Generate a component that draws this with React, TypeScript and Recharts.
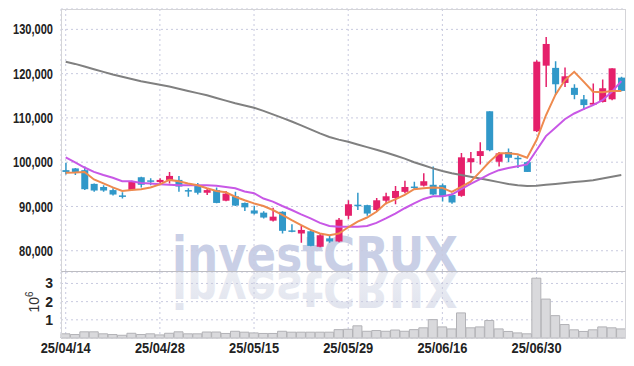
import React from "react";
import { Bar, CartesianGrid, ComposedChart, Line, XAxis, YAxis } from "recharts";

const dates = [
  "25/04/14", "25/04/15", "25/04/16", "25/04/17", "25/04/18", "25/04/21", "25/04/22", "25/04/23", "25/04/24", "25/04/25",
  "25/04/28", "25/04/29", "25/04/30", "25/05/02", "25/05/07", "25/05/08", "25/05/09", "25/05/12", "25/05/13", "25/05/14",
  "25/05/15", "25/05/16", "25/05/19", "25/05/20", "25/05/21", "25/05/22", "25/05/23", "25/05/26", "25/05/27", "25/05/28",
  "25/05/29", "25/05/30", "25/06/02", "25/06/04", "25/06/05", "25/06/09", "25/06/10", "25/06/11", "25/06/12", "25/06/13",
  "25/06/16", "25/06/17", "25/06/18", "25/06/19", "25/06/20", "25/06/23", "25/06/24", "25/06/25", "25/06/26", "25/06/27",
  "25/06/30", "25/07/01", "25/07/02", "25/07/03", "25/07/04", "25/07/07", "25/07/08", "25/07/09", "25/07/10", "25/07/11",
];

const opens = [
  98200, 98600, 98200, 95100, 94400, 93700, 92500, 93700, 96600, 95900,
  95500, 96000, 96000, 93700, 94800, 93100, 93700, 91300, 92300, 90800,
  89100, 88600, 86800, 88800, 84600, 83900, 84400, 80900, 82800, 82100,
  87900, 90400, 90300, 89200, 91300, 91900, 93300, 94500, 94700, 94900,
  94800, 92600, 92400, 100000, 101400, 111500, 100100, 102300, 101000, 100000,
  107000, 121800, 121300, 117900, 116800, 114200, 113000, 113600, 114200, 119100,
];
const highs = [
  99900, 98700, 99000, 95200, 94800, 94100, 93200, 95800, 96700, 96400,
  96400, 97800, 96900, 94100, 95300, 94200, 94300, 93500, 93300, 90900,
  90100, 88900, 89700, 88900, 86000, 85600, 84800, 84000, 83500, 87400,
  91400, 93100, 90400, 91900, 93100, 94600, 95800, 95600, 97500, 99000,
  95200, 93000, 102100, 102300, 104500, 111500, 102300, 103100, 101500, 100200,
  123000, 128300, 122800, 121400, 117600, 115200, 117800, 118700, 121200, 119300,
];
const lows = [
  97200, 97100, 93700, 93300, 93300, 92500, 91800, 93600, 94300, 94800,
  95200, 95200, 93300, 92200, 92700, 92600, 90700, 91200, 90100, 89000,
  88200, 87300, 86600, 83900, 84200, 81800, 81000, 80800, 81800, 81900,
  87100, 89200, 87900, 89000, 90500, 90500, 93000, 93900, 94500, 92600,
  91100, 90600, 92200, 97500, 99500, 102500, 99000, 100000, 98700, 97800,
  106800, 117000, 115200, 117000, 114200, 111800, 112900, 113500, 114000, 116000,
];
const closes = [
  97800, 97800, 93900, 93600, 93600, 92700, 92400, 95700, 94900, 95800,
  96000, 96900, 94500, 93600, 93100, 93700, 90800, 92900, 90200, 89800,
  88400, 87500, 87700, 84500, 84500, 84700, 81100, 83500, 82100, 87000,
  90500, 90300, 88400, 91400, 92300, 93500, 94400, 94400, 95700, 92700,
  92300, 90900, 101100, 100900, 102500, 102700, 102000, 101000, 100900, 97800,
  122700, 126700, 117600, 119400, 115200, 112900, 113400, 116700, 121200, 116100,
];
const volumes = [
  230000, 190000, 340000, 340000, 230000, 190000, 150000, 260000, 190000, 230000,
  170000, 260000, 340000, 230000, 230000, 330000, 330000, 250000, 370000, 320000,
  280000, 250000, 250000, 370000, 320000, 320000, 320000, 320000, 320000, 460000,
  480000, 670000, 370000, 410000, 370000, 440000, 370000, 460000, 560000, 1010000,
  610000, 500000, 1380000, 560000, 610000, 960000, 500000, 360000, 280000, 230000,
  3290000, 2140000, 1230000, 740000, 450000, 360000, 450000, 610000, 560000, 500000,
];
const ma5 = [
  97600, 97650, 97800, 96100, 95200, 94300, 93500, 93700, 93900, 94300,
  95000, 96000, 95700, 95200, 94800, 94100, 93500, 93200, 92200, 91400,
  90700, 90100, 89200, 88100, 86900, 85800, 84700, 83900, 83500, 83900,
  85300, 86600, 87500, 88800, 90700, 91600, 92600, 93900, 94100, 94300,
  94200, 93300, 94400, 95600, 97800, 100100, 102000, 102000, 101800, 101000,
  105000, 110600, 115200, 118500, 120400, 118200, 115900, 115800, 116100, 116100,
];
const ma20 = [
  101100, 99950, 98800, 97800, 97100, 96500, 95700, 95700, 95300, 95200,
  95000, 94900, 94800, 94800, 94800, 94800, 94700, 94400, 94100, 93400,
  93000, 91800, 91100, 90100, 89200, 88200, 87300, 86300, 85600, 85400,
  85400, 85400, 85600, 86300, 87300, 88400, 89600, 90700, 91700, 92300,
  92300, 92700, 93900, 95100, 96200, 97300, 98200, 98700, 99100, 99500,
  102700, 105900, 107800, 109700, 111000, 112000, 112900, 114000, 115900, 118300,
];
const ma120 = [
  122700, 122200, 121600, 121000, 120400, 119800, 119300, 118800, 118300, 117900,
  117500, 117100, 116600, 116100, 115600, 115100, 114500, 113900, 113300, 112800,
  112300, 111600, 110800, 110000, 109200, 108300, 107400, 106500, 105700, 105100,
  104600, 104000, 103400, 102800, 102200, 101500, 100800, 100000, 99300, 98600,
  98000, 97500, 97100, 96700, 96300, 95900, 95500, 95100, 94800, 94600,
  94700, 94900, 95100, 95300, 95500, 95700, 95900, 96300, 96700, 97100,
];

const priceTicks = [80000, 90000, 100000, 110000, 120000, 130000];
const volumeTicks = [1000000, 2000000, 3000000];
const dateTicks = ["25/04/14", "25/04/28", "25/05/15", "25/05/29", "25/06/16", "25/06/30"];

const data = dates.map((date, i) => ({
  date,
  open: opens[i],
  high: highs[i],
  low: lows[i],
  close: closes[i],
  range: [lows[i], highs[i]],
  volume: volumes[i],
  ma5: ma5[i],
  ma20: ma20[i],
  ma120: ma120[i],
}));

const UP = "#e5206b";
const DOWN = "#3198c9";
const FONT = "'Liberation Sans', Arial, sans-serif";
const GRID = "#c8cadf";

const Candle = (props: any) => {
  const { x, y, width, height, payload } = props;
  if (!payload) return null;
  const { open, close, high, low } = payload;
  const color = close > open ? UP : DOWN;
  const top = Math.min(y, y + height);
  const h = Math.abs(height);
  const k = high > low ? h / (high - low) : 0;
  const cx = x + width / 2;
  const bodyTop = top + (high - Math.max(open, close)) * k;
  const bodyH = Math.max(1.5, Math.abs(open - close) * k);
  return (
    <g>
      <line x1={cx} x2={cx} y1={top} y2={top + h} stroke={color} strokeWidth={1.5} />
      <rect x={cx - 3.5} y={bodyTop} width={7} height={bodyH} fill={color} />
    </g>
  );
};

// condensed look: squeeze the glyphs to the widths seen in the picture
const labelWidth = (s: string) =>
  s.split("").reduce((w, ch) => w + (ch === "," ? 3.4 : ch === "/" ? 6.4 : 6.1), 0);

const priceTick = (props: any) => {
  const { x, y, payload } = props;
  const s = payload.value.toLocaleString("en-US");
  return (
    <text
      x={x}
      y={y}
      dy="0.36em"
      textAnchor="end"
      fontFamily={FONT}
      fontSize={14}
      fontWeight={700}
      fill="#222"
      textLength={labelWidth(s)}
      lengthAdjust="spacingAndGlyphs"
    >
      {s}
    </text>
  );
};

const volumeTick = (props: any) => {
  const { x, y, payload } = props;
  return (
    <text x={x} y={y} dy="0.36em" textAnchor="end" fontFamily={FONT} fontSize={14} fontWeight={700} fill="#222">
      {String(Math.round(payload.value / 1000000))}
    </text>
  );
};

const dateTick = (props: any) => {
  const { x, y, payload } = props;
  return (
    <text
      x={x}
      y={y}
      dy={7}
      textAnchor="middle"
      fontFamily={FONT}
      fontSize={15}
      fontWeight={700}
      fill="#222"
      textLength={50}
      lengthAdjust="spacingAndGlyphs"
    >
      {payload.value}
    </text>
  );
};

export default function App() {
  return (
    <div style={{ position: "relative", width: 634, height: 366, margin: -8, background: "#fff" }}>
      <svg width={634} height={366} style={{ position: "absolute", left: 0, top: 0 }}>
        <defs>
          <linearGradient id="refl" x1="0" y1="0" x2="0" y2="1">
            <stop offset="0" stopColor="#dfe2ed" />
            <stop offset="1" stopColor="#eef0f5" />
          </linearGradient>
        </defs>
        <text
          x={172}
          y={272}
          fontFamily="'DejaVu Sans', sans-serif"
          fontWeight={700}
          fontSize={50}
          fill="#c9cfe6"
          textLength={286}
          lengthAdjust="spacingAndGlyphs"
        >
          investCRUX
        </text>
        <text
          x={172}
          y={272}
          transform="translate(0, 544) scale(1, -1)"
          fontFamily="'DejaVu Sans', sans-serif"
          fontWeight={700}
          fontSize={50}
          fill="url(#refl)"
          textLength={286}
          lengthAdjust="spacingAndGlyphs"
        >
          investCRUX
        </text>
        <text x={34} y={302} transform="rotate(-90 34 302)" textAnchor="middle" dy="0.35em" fontFamily={FONT} fontSize={14} fill="#333">
          10
          <tspan dy={-6} fontSize={10}>6</tspan>
        </text>
      </svg>

      <ComposedChart
        width={634}
        height={272}
        data={data}
        margin={{ top: 9, right: 8, bottom: 0, left: 0 }}
        style={{ position: "absolute", left: 0, top: 0 }}
      >
        <CartesianGrid stroke={GRID} strokeDasharray="2 3" />
        <XAxis dataKey="date" hide ticks={dateTicks} interval={0} />
        <YAxis
          domain={[75200, 134600]}
          ticks={priceTicks}
          interval={0}
          width={61}
          tick={priceTick}
          tickLine={false}
          axisLine={false}
          allowDataOverflow
        />
        <Line type="linear" dataKey="ma120" stroke="#808080" strokeWidth={2} dot={false} isAnimationActive={false} />
        <Bar dataKey="range" shape={(p: any) => <Candle {...p} />} isAnimationActive={false} />
        <Line type="linear" dataKey="ma20" stroke="#c858e6" strokeWidth={2} dot={false} isAnimationActive={false} />
        <Line type="linear" dataKey="ma5" stroke="#ee8a4e" strokeWidth={2} dot={false} isAnimationActive={false} />
      </ComposedChart>

      <ComposedChart
        width={634}
        height={94}
        data={data}
        margin={{ top: 0, right: 8, bottom: 0, left: 0 }}
        barCategoryGap={0}
        style={{ position: "absolute", left: 0, top: 272 }}
      >
        <CartesianGrid stroke={GRID} strokeDasharray="2 3" />
        <XAxis
          dataKey="date"
          ticks={dateTicks}
          interval={0}
          height={28}
          tick={dateTick}
          tickLine={false}
          axisLine={{ stroke: "#d0d0d4" }}
        />
        <YAxis
          domain={[0, 3630000]}
          ticks={volumeTicks}
          interval={0}
          width={61}
          tick={volumeTick}
          tickLine={false}
          axisLine={false}
        />
        <Bar dataKey="volume" fill="#d9d9dc" stroke="#b2b2b6" strokeWidth={1} isAnimationActive={false} />
      </ComposedChart>

      <div style={{ position: "absolute", left: 61, top: 9, width: 565, height: 263, borderLeft: "1px solid #d4d4d8", borderTop: "1px solid #d4d4d8", borderRight: "1px solid #d4d4d8", boxSizing: "border-box", pointerEvents: "none" }} />
      <div style={{ position: "absolute", left: 61, top: 271, width: 565, height: 67, borderTop: "1.5px solid #bdbdc2", borderLeft: "1px solid #d4d4d8", borderRight: "1px solid #d4d4d8", boxSizing: "border-box", pointerEvents: "none" }} />
    </div>
  );
}
